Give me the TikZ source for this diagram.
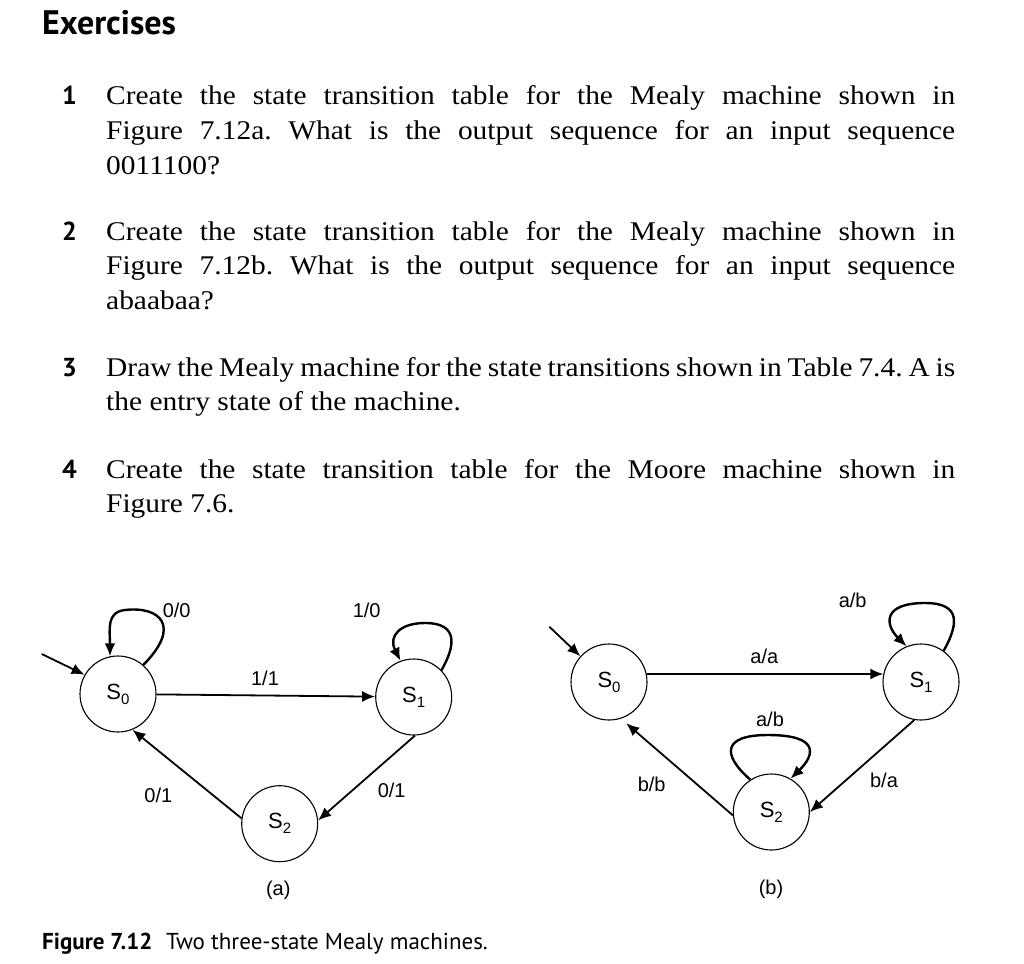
\documentclass[tikz,border=0pt]{standalone}
\usepackage{fontspec}
\setmainfont{Liberation Serif}
\newfontfamily\bodyfont[FakeStretch=1.09]{Liberation Serif}
\newfontfamily\hsans{PT Sans}
\newfontfamily\dsans{Liberation Sans}
\usetikzlibrary{arrows.meta}
\newcommand{\stname}[1]{S\raisebox{-5pt}{\fontsize{15}{15}\selectfont #1}}
\tikzset{
 stnode/.style={draw, circle, line width=1.1pt, minimum size=76pt, inner sep=0pt, font=\dsans\fontsize{22}{22}\selectfont},
 edge/.style={line width=1.8pt, -{Latex[length=13pt,width=11pt]}},
 loopedge/.style={line width=2.4pt, -{Latex[length=13pt,width=11pt]}},
 lab/.style={font=\dsans\fontsize{20}{20}\selectfont, inner sep=0pt},
 body/.style={anchor=base west, inner sep=0pt, font=\bodyfont\fontsize{27}{27}\selectfont},
 num/.style={anchor=base west, inner sep=0pt, font=\hsans\bfseries\fontsize{26}{26}\selectfont},
}
\begin{document}
\frenchspacing
\begin{tikzpicture}[x=1pt,y=-1pt]
\useasboundingbox[fill=white] (0,0) rectangle (1024,963);
% heading
\node[anchor=base west, inner sep=0pt, font=\hsans\bfseries\fontsize{34}{34}\selectfont] (head) at (42,35) {Exercises};
% exercise 1
\node[num] (n1) at (62,105) {1};
\node[body] (t1a) at (106,105) {\makebox[849pt][s]{Create the state transition table for the Mealy machine shown in}};
\node[body] (t1b) at (106,139.5) {\makebox[849pt][s]{Figure 7.12a. What is the output sequence for an input sequence}};
\node[body] (t1c) at (106,174) {0011100?};
% exercise 2
\node[num] (n2) at (62,240) {2};
\node[body] (t2a) at (106,240) {\makebox[849pt][s]{Create the state transition table for the Mealy machine shown in}};
\node[body] (t2b) at (106,274.5) {\makebox[849pt][s]{Figure 7.12b. What is the output sequence for an input sequence}};
\node[body] (t2c) at (106,309) {abaabaa?};
% exercise 3
\node[num] (n3) at (62,376) {3};
\node[body] (t3a) at (106,376) {\makebox[849pt][s]{Draw the Mealy machine for the state transitions shown in Table 7.4. A is}};
\node[body] (t3b) at (106,410.5) {the entry state of the machine.};
% exercise 4
\node[num] (n4) at (62,478) {4};
\node[body] (t4a) at (106,478) {\makebox[849pt][s]{Create the state transition table for the Moore machine shown in}};
\node[body] (t4b) at (106,512.5) {Figure 7.6.};

% ---------- diagram (a)
\node[stnode] (s0a) at (118,694) {\stname{0}};
\node[stnode] (s1a) at (413.7,697) {\stname{1}};
\node[stnode] (s2a) at (279.7,823.7) {\stname{2}};
\coordinate (ia) at (41.7,654);
\draw[edge] (ia) -- (s0a.150);
\draw[edge] (s0a) -- (s1a);
\draw[edge] (s1a.-88) -- (s2a.5);
\draw[edge] (s2a.172) -- (s0a.-68);
\draw[loopedge] (s0a.49) .. controls (182,626) and (160,606) .. (125,610) .. controls (106,612) and (110,630) .. (s0a.102);
\draw[loopedge] (s1a.44) .. controls (456,645) and (458,623) .. (425,623) .. controls (400,623) and (388,636) .. (s1a.110);
\node[lab] (la1) at (176.7,610.7) {0/0};
\node[lab] (la2) at (366.7,610.7) {1/0};
\node[lab] (la3) at (265,678) {1/1};
\node[lab] (la4) at (158.3,795) {0/1};
\node[lab] (la5) at (391.7,790.7) {0/1};
\node[lab] (capa) at (278.3,890) {(a)};

% ---------- diagram (b)
\node[stnode] (s0b) at (609,682) {\stname{0}};
\node[stnode] (s1b) at (921,682) {\stname{1}};
\node[stnode] (s2b) at (771.3,812) {\stname{2}};
\coordinate (ib) at (549.3,626.7);
\draw[edge] (ib) -- (s0b.138);
\draw[edge] (s0b.12) -- (s1b.168);
\draw[edge] (s1b.-100) -- (s2b.0);
\draw[edge, shorten >=7pt] (s2b.185) -- (s0b.-72);
\draw[loopedge] (s1b.54) .. controls (958,625) and (962,603) .. (925,603) .. controls (882,603) and (885,625) .. (s1b.112);
\draw[loopedge] (s2b.123) .. controls (722,755) and (722,735) .. (768,735) .. controls (820,735) and (815,755) .. (s2b.60);
\node[lab] (lb1) at (852.7,600) {a/b};
\node[lab] (lb2) at (764.3,656) {a/a};
\node[lab] (lb3) at (770,719.3) {a/b};
\node[lab] (lb4) at (651.7,784) {b/b};
\node[lab] (lb5) at (884,780) {b/a};
\node[lab] (capb) at (771,889.3) {(b)};

% caption
\node[anchor=base west, inner sep=0pt, font=\hsans\fontsize{23}{23}\selectfont] (cap) at (42,949.5) {\textbf{Figure 7.12}\hspace{0.6em}Two three-state Mealy machines.};
\end{tikzpicture}
\end{document}
